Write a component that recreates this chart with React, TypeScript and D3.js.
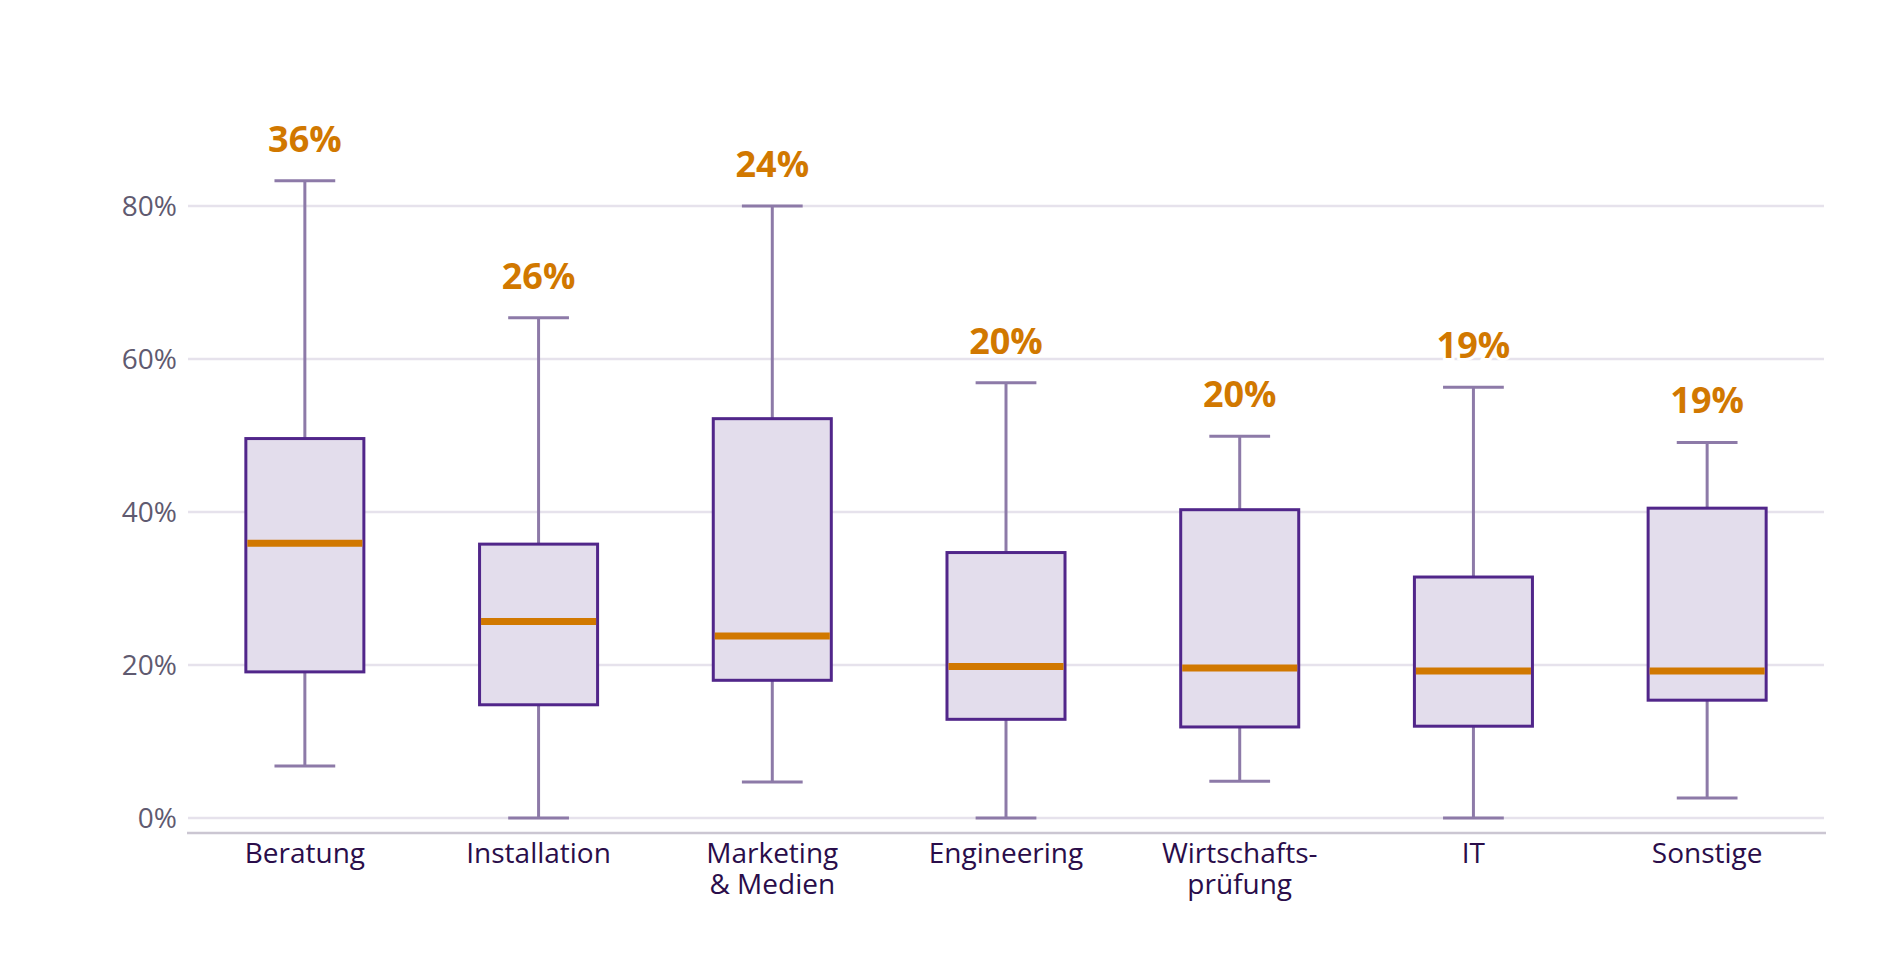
import * as d3 from "d3";

const categories = ["Beratung", "Installation", "Marketing\n& Medien", "Engineering", "Wirtschafts-\nprüfung", "IT", "Sonstige"];
const whiskerLow = [6.8, 0, 4.7, 0, 4.8, 0, 2.6];
const q1 = [19.1, 14.8, 18.0, 12.9, 11.9, 12.0, 15.4];
const median = [35.9, 25.7, 23.8, 19.8, 19.6, 19.2, 19.2];
const q3 = [49.6, 35.8, 52.2, 34.7, 40.3, 31.5, 40.5];
const whiskerHigh = [83.3, 65.4, 80.0, 56.9, 49.9, 56.3, 49.1];
const medianLabels = ["36%", "26%", "24%", "20%", "20%", "19%", "19%"];
const yTicks = [0, 20, 40, 60, 80];

const W = 1880;
const H = 980;
const FONT = "'Open Sans', 'DejaVu Sans', sans-serif";

export default function App() {
  const x = d3.scaleBand<string>().domain(categories).range([188, 1824]);
  const y = d3.scaleLinear().domain([0, 80]).range([818, 206]);
  const boxW = x.bandwidth() * 0.505;
  const capW = x.bandwidth() * 0.26;
  const cx = (c: string) => (x(c) ?? 0) + x.bandwidth() / 2;

  return (
    <div style={{ position: "absolute", left: 0, top: 0 }}>
      <svg width={W} height={H} style={{ display: "block", background: "#fff" }}>
        {/* grid + y ticks */}
        {yTicks.map((t) => (
          <g key={t}>
            <line x1={188} x2={1824} y1={y(t)} y2={y(t)} stroke="#e6e2ec" strokeWidth={2.5} />
            <text x={177} y={y(t)} dy="0.36em" textAnchor="end" fontFamily={FONT} fontSize={28} fill="#5f5a70">
              {`${t}%`}
            </text>
          </g>
        ))}
        <line x1={187} x2={1826} y1={833} y2={833} stroke="#cbc6d2" strokeWidth={2.5} />

        {categories.map((c, i) => {
          const xc = cx(c);
          return (
            <g key={c}>
              {/* whiskers */}
              <line x1={xc} x2={xc} y1={y(whiskerHigh[i])} y2={y(q3[i])} stroke="#8d7aa8" strokeWidth={3} />
              <line x1={xc} x2={xc} y1={y(q1[i])} y2={y(whiskerLow[i])} stroke="#8d7aa8" strokeWidth={3} />
              <line x1={xc - capW / 2} x2={xc + capW / 2} y1={y(whiskerHigh[i])} y2={y(whiskerHigh[i])} stroke="#8d7aa8" strokeWidth={3} />
              <line x1={xc - capW / 2} x2={xc + capW / 2} y1={y(whiskerLow[i])} y2={y(whiskerLow[i])} stroke="#8d7aa8" strokeWidth={3} />
              {/* box */}
              <rect
                x={xc - boxW / 2}
                y={y(q3[i])}
                width={boxW}
                height={y(q1[i]) - y(q3[i])}
                fill="#e3ddec"
                stroke="#51268a"
                strokeWidth={3}
              />
              <line x1={xc - boxW / 2 + 1.5} x2={xc + boxW / 2 - 1.5} y1={y(median[i])} y2={y(median[i])} stroke="#d17800" strokeWidth={7} />
              {/* median label */}
              <text
                x={xc}
                y={y(whiskerHigh[i]) - 29}
                textAnchor="middle"
                fontFamily={FONT}
                fontWeight={700}
                fontSize={36}
                fill="#d17800"
                stroke="#fff"
                strokeWidth={6}
                paintOrder="stroke"
              >
                {medianLabels[i]}
              </text>
              {/* category, one text per line */}
              {c.split("\n").map((line, k) => (
                <text key={k} x={xc} y={863 + k * 31} textAnchor="middle" fontFamily={FONT} fontSize={28} fill="#2a0d4a">
                  {line}
                </text>
              ))}
            </g>
          );
        })}
      </svg>
    </div>
  );
}
